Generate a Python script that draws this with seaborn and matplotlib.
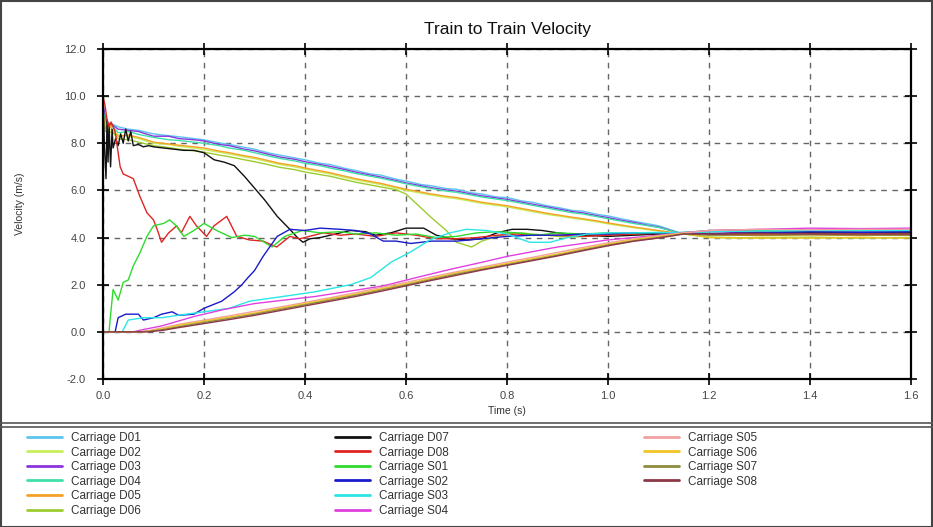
import matplotlib
matplotlib.use("Agg")
import matplotlib.pyplot as plt
from matplotlib.lines import Line2D
from matplotlib.patches import Rectangle
import seaborn as sns
import pandas as pd

# ---------------- data ----------------
U_T = [0, 0.005, 0.01, 0.02, 0.03, 0.05, 0.07, 0.1, 0.13, 0.15, 0.18, 0.2, 0.23, 0.25, 0.28,
       0.3, 0.33, 0.35, 0.38, 0.4, 0.43, 0.45, 0.48, 0.5, 0.53, 0.55, 0.58, 0.6, 0.63, 0.65,
       0.68, 0.7, 0.73, 0.75, 0.78, 0.8, 0.83, 0.85, 0.88, 0.9, 0.93, 0.95, 0.98, 1.0, 1.03,
       1.05, 1.08, 1.1, 1.14, 1.2, 1.25, 1.3, 1.35, 1.4, 1.45, 1.5, 1.55, 1.6]

D01 = [9.5, 9.1, 8.9, 8.8, 8.7, 8.6, 8.55, 8.4, 8.32, 8.28, 8.2, 8.15, 8.02, 7.95, 7.83,
       7.75, 7.58, 7.5, 7.38, 7.3, 7.15, 7.1, 6.93, 6.85, 6.7, 6.65, 6.48, 6.4, 6.25, 6.2,
       6.08, 6.05, 5.9, 5.85, 5.72, 5.7, 5.55, 5.5, 5.35, 5.28, 5.15, 5.12, 4.98, 4.92, 4.78,
       4.7, 4.58, 4.5, 4.22, 4.28, 4.3, 4.32, 4.28, 4.3, 4.33, 4.3, 4.32, 4.3]
D02 = [9.3, 8.8, 8.6, 8.55, 8.35, 8.3, 8.2, 8.0, 7.95, 7.87, 7.8, 7.73, 7.62, 7.55, 7.42,
       7.35, 7.2, 7.1, 7.0, 6.9, 6.78, 6.7, 6.55, 6.45, 6.33, 6.25, 6.1, 6.0, 5.88, 5.8,
       5.7, 5.65, 5.53, 5.45, 5.36, 5.3, 5.18, 5.1, 4.98, 4.92, 4.82, 4.76, 4.66, 4.58, 4.48,
       4.42, 4.33, 4.28, 4.18, 4.0, 3.98, 4.0, 4.02, 3.98, 4.0, 4.0, 3.99, 4.0]
D03 = [9.7, 9.0, 8.85, 8.75, 8.6, 8.55, 8.5, 8.3, 8.3, 8.2, 8.15, 8.1, 7.95, 7.9, 7.75,
       7.68, 7.52, 7.42, 7.32, 7.22, 7.1, 7.02, 6.88, 6.78, 6.65, 6.57, 6.42, 6.32, 6.2, 6.12,
       6.02, 5.97, 5.85, 5.77, 5.68, 5.62, 5.5, 5.42, 5.3, 5.22, 5.1, 5.05, 4.92, 4.85, 4.72,
       4.65, 4.52, 4.45, 4.2, 4.25, 4.22, 4.25, 4.27, 4.24, 4.25, 4.26, 4.24, 4.25]
D04 = [9.4, 8.9, 8.75, 8.7, 8.45, 8.5, 8.38, 8.25, 8.15, 8.12, 8.05, 8.0, 7.9, 7.8, 7.7,
       7.6, 7.45, 7.36, 7.25, 7.15, 7.05, 6.95, 6.82, 6.72, 6.6, 6.52, 6.38, 6.28, 6.15, 6.08,
       5.97, 5.92, 5.8, 5.72, 5.63, 5.57, 5.45, 5.37, 5.25, 5.17, 5.05, 5.0, 4.88, 4.8, 4.68,
       4.6, 4.5, 4.43, 4.2, 4.3, 4.32, 4.3, 4.28, 4.3, 4.32, 4.3, 4.3, 4.31]
D05 = [9.2, 8.6, 8.9, 8.5, 8.3, 8.35, 8.25, 8.05, 7.97, 7.92, 7.85, 7.8, 7.67, 7.6, 7.47,
       7.4, 7.25, 7.15, 7.05, 6.95, 6.83, 6.75, 6.6, 6.5, 6.38, 6.3, 6.15, 6.05, 5.93, 5.85,
       5.75, 5.7, 5.58, 5.5, 5.41, 5.35, 5.23, 5.15, 5.03, 4.96, 4.86, 4.8, 4.7, 4.62, 4.52,
       4.45, 4.36, 4.3, 4.18, 4.12, 4.1, 4.08, 4.1, 4.12, 4.1, 4.08, 4.1, 4.1]
D06 = [9.0, 8.5, 8.5, 8.45, 8.2, 8.15, 8.05, 7.9, 7.82, 7.75, 7.68, 7.62, 7.5, 7.43, 7.3,
       7.22, 7.08, 6.98, 6.88, 6.78, 6.67, 6.6, 6.45, 6.35, 6.23, 6.15, 6.03, 5.85, 5.25, 4.85,
       4.3, 3.8, 3.6, 3.85, 4.05, 4.15, 4.2, 4.15, 4.1, 4.05, 4.02, 4.05, 4.1, 4.12, 4.14,
       4.12, 4.15, 4.15, 4.18, 4.02, 4.0, 3.98, 4.0, 4.02, 4.0, 3.98, 4.0, 4.0]

D07_T = [0, 0.003, 0.006, 0.008, 0.01, 0.012, 0.015, 0.018, 0.02, 0.025, 0.03, 0.035, 0.04,
         0.045, 0.05, 0.055, 0.06, 0.07, 0.08, 0.09, 0.1, 0.12, 0.14, 0.16, 0.18, 0.2, 0.22,
         0.24, 0.26, 0.28, 0.3, 0.32, 0.345, 0.37, 0.385, 0.396, 0.41, 0.43, 0.46, 0.49, 0.52,
         0.54, 0.57, 0.6, 0.635, 0.66, 0.69, 0.72, 0.75, 0.78, 0.81, 0.84, 0.87, 0.9, 0.95,
         1.0, 1.05, 1.1, 1.15, 1.2, 1.3, 1.4, 1.5, 1.6]
D07 = [9.9, 7.8, 6.5, 9.0, 7.2, 8.8, 7.0, 8.6, 7.8, 8.2, 7.9, 8.4, 8.0, 8.6, 8.1, 8.5, 7.9,
       7.95, 7.85, 7.9, 7.85, 7.8, 7.75, 7.7, 7.7, 7.6, 7.3, 7.2, 7.05, 6.6, 6.1, 5.6, 4.9,
       4.35, 4.0, 3.8, 3.95, 4.0, 4.15, 4.3, 4.25, 4.1, 4.2, 4.4, 4.4, 4.1, 3.95, 3.9, 3.95,
       4.2, 4.35, 4.35, 4.3, 4.2, 4.1, 4.05, 4.1, 4.15, 4.2, 4.15, 4.2, 4.2, 4.2, 4.2]

D08_T = [0, 0.004, 0.008, 0.012, 0.016, 0.02, 0.024, 0.03, 0.034, 0.04, 0.05, 0.06, 0.073,
         0.087, 0.1, 0.108, 0.116, 0.13, 0.146, 0.155, 0.172, 0.185, 0.205, 0.22, 0.245,
         0.265, 0.29, 0.317, 0.344, 0.37, 0.39, 0.436, 0.47, 0.5, 0.54, 0.58, 0.62, 0.66,
         0.7, 0.74, 0.78, 0.82, 0.86, 0.9, 0.95, 1.0, 1.05, 1.1, 1.15, 1.2, 1.3, 1.4, 1.5, 1.6]
D08 = [10.0, 9.6, 9.0, 8.7, 8.9, 8.7, 8.5, 7.6, 7.0, 6.7, 6.6, 6.5, 5.75, 5.05, 4.75, 4.3,
       3.8, 4.2, 4.5, 4.2, 4.9, 4.5, 4.05, 4.5, 4.9, 4.05, 3.9, 3.85, 3.6, 4.05, 3.95, 4.2,
       4.1, 4.15, 4.05, 4.2, 4.1, 3.95, 3.95, 4.0, 4.1, 4.15, 4.1, 4.1, 4.05, 4.1, 4.15,
       4.18, 4.2, 4.15, 4.12, 4.15, 4.15, 4.15]

S01_T = [0, 0.012, 0.014, 0.02, 0.03, 0.04, 0.05, 0.06, 0.073, 0.087, 0.1, 0.12, 0.132,
         0.145, 0.16, 0.18, 0.2, 0.225, 0.255, 0.28, 0.3, 0.335, 0.36, 0.395, 0.43, 0.47,
         0.5, 0.54, 0.58, 0.62, 0.66, 0.7, 0.74, 0.78, 0.82, 0.86, 0.9, 0.95, 1.0, 1.05,
         1.1, 1.15, 1.2, 1.3, 1.4, 1.5, 1.6]
S01 = [0.0, 0.0, 0.5, 1.8, 1.35, 2.1, 2.2, 2.8, 3.35, 4.05, 4.5, 4.6, 4.75, 4.5, 4.05, 4.3,
       4.6, 4.3, 4.0, 4.1, 4.05, 3.6, 4.05, 4.3, 4.2, 4.25, 4.15, 4.2, 4.1, 4.15, 4.0, 4.05,
       4.2, 4.25, 4.2, 4.1, 4.2, 4.15, 4.2, 4.2, 4.18, 4.2, 4.25, 4.3, 4.28, 4.3, 4.3]

S02_T = [0, 0.024, 0.03, 0.045, 0.07, 0.08, 0.1, 0.116, 0.137, 0.15, 0.18, 0.2, 0.235, 0.26,
         0.275, 0.287, 0.3, 0.317, 0.33, 0.345, 0.37, 0.4, 0.43, 0.47, 0.5, 0.53, 0.555,
         0.58, 0.61, 0.65, 0.7, 0.75, 0.8, 0.85, 0.9, 0.95, 1.0, 1.05, 1.1, 1.15, 1.2, 1.3,
         1.4, 1.5, 1.6]
S02 = [0, 0, 0.6, 0.75, 0.75, 0.5, 0.6, 0.75, 0.85, 0.7, 0.75, 1.0, 1.3, 1.7, 2.0, 2.3, 2.6,
       3.2, 3.6, 4.05, 4.35, 4.3, 4.4, 4.35, 4.3, 4.15, 3.85, 3.85, 3.75, 3.85, 3.85, 3.95,
       4.05, 4.1, 4.1, 4.15, 4.15, 4.2, 4.2, 4.2, 4.15, 4.2, 4.25, 4.22, 4.25]

S03_T = [0, 0.038, 0.05, 0.08, 0.116, 0.148, 0.2, 0.25, 0.29, 0.356, 0.42, 0.49, 0.53, 0.57,
         0.61, 0.647, 0.687, 0.72, 0.76, 0.8, 0.845, 0.885, 0.92, 0.96, 1.0, 1.05, 1.1, 1.15,
         1.2, 1.3, 1.4, 1.5, 1.6]
S03 = [0, 0, 0.5, 0.6, 0.6, 0.7, 0.85, 1.0, 1.3, 1.5, 1.7, 2.0, 2.3, 2.95, 3.4, 3.9, 4.2,
       4.35, 4.3, 4.15, 3.8, 3.8, 4.0, 4.15, 4.2, 4.2, 4.22, 4.2, 4.25, 4.28, 4.3, 4.3, 4.3]

S04_T = [0, 0.06, 0.08, 0.116, 0.18, 0.24, 0.3, 0.36, 0.42, 0.48, 0.555, 0.62, 0.687, 0.75,
         0.8, 0.85, 0.9, 0.95, 1.0, 1.05, 1.1, 1.15, 1.2, 1.3, 1.4, 1.5, 1.6]
S04 = [0, 0, 0.1, 0.25, 0.65, 0.95, 1.2, 1.35, 1.5, 1.7, 1.95, 2.3, 2.65, 2.95, 3.2, 3.4,
       3.6, 3.75, 3.9, 4.0, 4.1, 4.2, 4.3, 4.35, 4.4, 4.38, 4.4]

L_T = [0, 0.07, 0.09, 0.12, 0.15, 0.2, 0.25, 0.3, 0.35, 0.4, 0.45, 0.5, 0.55, 0.6, 0.65, 0.7,
       0.75, 0.8, 0.85, 0.9, 0.95, 1.0, 1.05, 1.1, 1.15, 1.2, 1.3, 1.4, 1.5, 1.6]
S05 = [0, 0, 0.05, 0.18, 0.32, 0.5, 0.68, 0.87, 1.05, 1.25, 1.45, 1.66, 1.88, 2.1, 2.33,
       2.55, 2.75, 2.96, 3.16, 3.37, 3.58, 3.78, 3.95, 4.08, 4.2, 4.3, 4.35, 4.33, 4.35, 4.35]
S06 = [0, 0, 0.03, 0.14, 0.28, 0.45, 0.63, 0.8, 1.0, 1.2, 1.4, 1.6, 1.82, 2.04, 2.27, 2.5,
       2.7, 2.9, 3.1, 3.3, 3.52, 3.72, 3.9, 4.04, 4.18, 4.0, 3.98, 3.98, 4.0, 3.98]
S07 = [0, 0, 0.02, 0.1, 0.22, 0.4, 0.57, 0.75, 0.95, 1.15, 1.35, 1.55, 1.77, 1.99, 2.22,
       2.45, 2.65, 2.85, 3.05, 3.25, 3.47, 3.68, 3.86, 4.0, 4.16, 4.1, 4.1, 4.12, 4.1, 4.1]
S08 = [0, 0, 0.0, 0.07, 0.18, 0.35, 0.52, 0.7, 0.9, 1.1, 1.3, 1.5, 1.72, 1.95, 2.18, 2.4,
       2.62, 2.82, 3.02, 3.22, 3.44, 3.65, 3.84, 3.98, 4.15, 4.15, 4.18, 4.15, 4.15, 4.15]

SERIES = [
    ("Carriage D01", U_T, D01), ("Carriage D02", U_T, D02), ("Carriage D03", U_T, D03),
    ("Carriage D04", U_T, D04), ("Carriage D05", U_T, D05), ("Carriage D06", U_T, D06),
    ("Carriage D07", D07_T, D07), ("Carriage D08", D08_T, D08), ("Carriage S01", S01_T, S01),
    ("Carriage S02", S02_T, S02), ("Carriage S03", S03_T, S03), ("Carriage S04", S04_T, S04),
    ("Carriage S05", L_T, S05), ("Carriage S06", L_T, S06), ("Carriage S07", L_T, S07),
    ("Carriage S08", L_T, S08),
]
COLORS = ["#5ec4ee", "#c8ee5a", "#8a35dd", "#3fe0a8", "#f4a225", "#9ccc30",
          "#111111", "#e02424", "#2edb2e", "#1a1acc", "#2ae6e6", "#e040e0",
          "#f2a0a0", "#f0c428", "#8c8c3c", "#8c3848"]
X_TICKS = [0.0, 0.2, 0.4, 0.6, 0.8, 1.0, 1.2, 1.4, 1.6]
Y_TICKS = [-2.0, 0.0, 2.0, 4.0, 6.0, 8.0, 10.0, 12.0]

# ---------------- build long table ----------------
rows = []
for name, ts, vs in SERIES:
    assert len(ts) == len(vs), name
    for t, v in zip(ts, vs):
        rows.append({"series": name, "t": t, "v": v})
df = pd.DataFrame(rows)
names = [s[0] for s in SERIES]
palette = dict(zip(names, COLORS))

# ---------------- figure ----------------
sns.set_style("white")
plt.rcParams["font.family"] = ["Liberation Sans", "DejaVu Sans"]

W, H = 933, 527
fig = plt.figure(figsize=(W / 100, H / 100), dpi=100)
ax = fig.add_axes([103 / W, 1 - 379 / H, (911 - 103) / W, (379 - 49) / H])

sns.lineplot(data=df, x="t", y="v", hue="series", hue_order=names, palette=palette,
             estimator=None, sort=False, units="series", linewidth=1.0, ax=ax, legend=True)

ax.set_xlim(0, 1.6)
ax.set_ylim(-2, 12)
ax.set_xticks(X_TICKS)
ax.set_yticks(Y_TICKS)
ax.set_xticklabels([f"{v:.1f}" for v in X_TICKS])
ax.set_yticklabels([f"{v:.1f}" for v in Y_TICKS])
ax.grid(True, color="#666666", linestyle=(0, (4, 4)), linewidth=1.0)
for s in ax.spines.values():
    s.set_visible(True)
    s.set_color("black")
    s.set_linewidth(1.6)
ax.tick_params(axis="both", which="both", direction="inout", length=9, width=1.2,
               color="black", labelsize=8, labelcolor="#444444",
               top=True, right=True, bottom=True, left=True)
ax.tick_params(axis="y", pad=8)
ax.tick_params(axis="x", pad=4)

ax.set_title("Train to Train Velocity", fontsize=12.5, color="#111111", pad=11)
ax.set_xlabel("Time (s)", fontsize=7.5, color="#333333")
ax.set_ylabel("Velocity (m/s)", fontsize=7.5, color="#333333")
ax.xaxis.set_label_coords(0.5, -0.082)
ax.yaxis.set_label_coords(-0.097, 0.53)

# legend in three columns below the chart
ax.get_legend().remove()
cols = [names[0:6], names[6:12], names[12:16]]
col_x = [27, 335, 644]
for cx, col in zip(col_x, cols):
    hs = [Line2D([0], [0], color=palette[n], linewidth=2.0) for n in col]
    leg = fig.legend(hs, col, loc="upper left", bbox_to_anchor=(cx / W, 1 - 432 / H),
                     frameon=False, fontsize=8.5, handlelength=3.0, handletextpad=0.75,
                     labelspacing=0.215, borderpad=0, borderaxespad=0)
    for txt in leg.get_texts():
        txt.set_color("#333333")

# frame and separator
fig.patches.append(Rectangle((0.5 / W, 0.5 / H), 1 - 1.5 / W, 1 - 1.5 / H,
                             transform=fig.transFigure, fill=False,
                             edgecolor="#444444", linewidth=1.5))
for yy in (423, 427):
    fig.lines.append(Line2D([0, 1], [1 - yy / H, 1 - yy / H], transform=fig.transFigure,
                            color="#555555", linewidth=1.2))

fig.savefig("out.png", dpi=100)
